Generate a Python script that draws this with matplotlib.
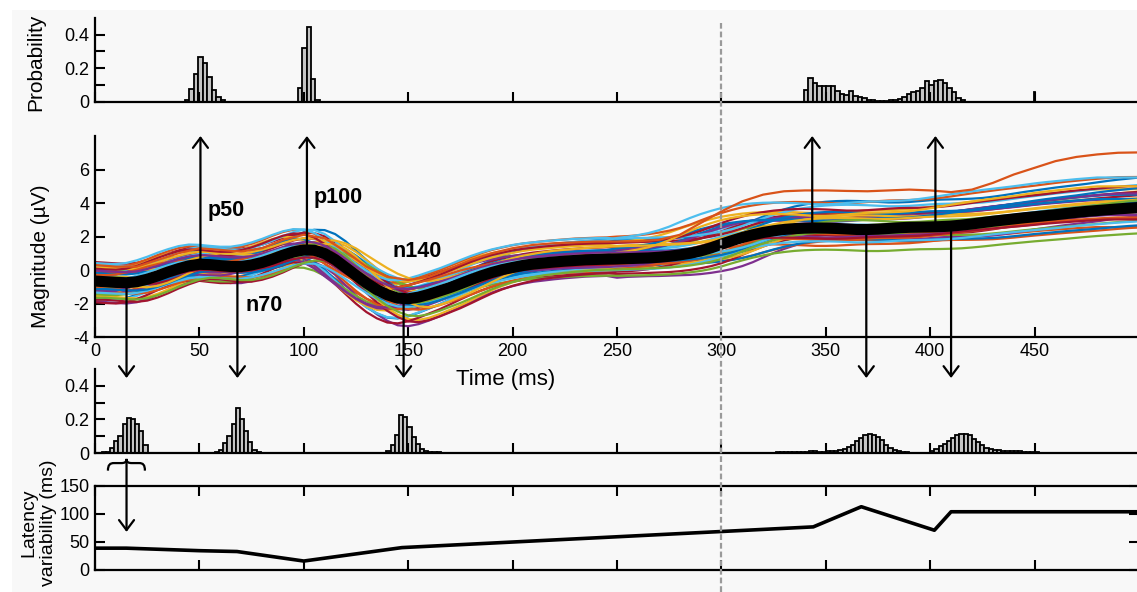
import numpy as np
import matplotlib
matplotlib.use("Agg")
import matplotlib.pyplot as plt
from matplotlib.patches import PathPatch, Rectangle
from matplotlib.path import Path
from matplotlib.lines import Line2D
from matplotlib.transforms import blended_transform_factory

plt.rcParams['font.family'] = ['Liberation Sans', 'DejaVu Sans']
plt.rcParams['axes.unicode_minus'] = False

W, H = 1137, 592

# ---------------- data ----------------
time_ms = np.arange(0, 505, 5)
mean_uv = [
    -0.66, -0.70, -0.74, -0.76, -0.70, -0.55, -0.35, -0.12, 0.08, 0.25,
    0.34, 0.32, 0.26, 0.21, 0.21, 0.30, 0.45, 0.65, 0.88, 1.08,
    1.20, 1.18, 0.98, 0.62, 0.15, -0.32, -0.78, -1.18, -1.48, -1.68,
    -1.72, -1.62, -1.45, -1.25, -1.05, -0.82, -0.58, -0.35, -0.15, 0.02,
    0.15, 0.27, 0.36, 0.42, 0.48, 0.53, 0.57, 0.61, 0.63, 0.65,
    0.66, 0.68, 0.70, 0.72, 0.76, 0.82, 0.90, 1.00, 1.14, 1.32,
    1.54, 1.75, 1.94, 2.10, 2.24, 2.34, 2.42, 2.47, 2.50, 2.51,
    2.50, 2.48, 2.45, 2.42, 2.42, 2.44, 2.48, 2.52, 2.55, 2.56,
    2.57, 2.59, 2.62, 2.68, 2.75, 2.83, 2.91, 2.98, 3.05, 3.12,
    3.18, 3.24, 3.30, 3.37, 3.44, 3.50, 3.55, 3.60, 3.65, 3.69,
    3.73]

# single trials: offset, latency shift early / late (samples), amplitude, late drift
trial_offset = [
    0.9, -0.6, 0.3, -1.0, 0.5, -0.2, 1.1,
    -0.8, 0.0, 0.7, -0.4, 0.2, -0.9, 0.6,
    -0.1, 1.0, -0.7, 0.4, -0.3, 0.8, -1.05,
    0.1, 0.55, -0.5, 0.25, -0.85, 0.95, -0.15,
    0.35, -0.65, 0.75, -0.35, 0.05, 1.15, -0.95,
    0.45, -0.25, 0.65, -0.55, 0.15, -0.75, 0.85,
    -0.45, 0.3, -0.05, 0.6, -0.9, 0.2, -0.3]
trial_shift = [
    1, -1, 2, 0, -2, 1, 0,
    -1, 2, -2, 0, 1, -1, 0,
    2, -1, 1, -2, 0, 1, -1,
    2, 0, -2, 1, -1, 0, 2,
    -1, 1, 0, -2, 2, -1, 1,
    0, -1, 2, -2, 1, 0, -1,
    1, -2, 2, 0, 1, -1, 0]
trial_late_shift = [
    3, -4, 1, 4, -2, -3, 2,
    -1, 4, -4, 2, 3, -3, 0,
    4, -2, 1, -4, 3, -1, 2,
    -3, 0, 4, -2, 1, -4, 3,
    2, -3, 4, -1, 0, 3, -2,
    -4, 1, 2, -3, 4, 0, -1,
    3, -2, -4, 1, 2, 4, -3]
trial_amp = [
    1.20, 0.90, 1.05, 1.30, 0.85, 1.10, 0.95,
    1.25, 0.80, 1.00, 1.15, 0.90, 1.20, 1.05,
    0.85, 1.10, 1.30, 0.95, 1.00, 0.80, 1.25,
    1.10, 0.90, 1.15, 1.05, 0.85, 1.20, 0.95,
    1.30, 1.00, 0.90, 1.10, 0.80, 1.05, 1.25,
    0.95, 1.15, 0.85, 1.00, 1.20, 0.90, 1.10,
    1.05, 0.80, 1.30, 0.95, 1.15, 1.00, 0.85]
trial_drift = [
    0.30, -0.20, 0.50, -0.40, 0.10, 0.60, -0.10,
    0.20, -0.30, 0.40, 0.00, -0.50, 0.35, 0.15,
    -0.25, 0.45, -0.15, 0.25, 0.55, -0.35, 0.05,
    0.30, -0.45, 0.20, 0.40, -0.10, 0.10, 0.50,
    -0.20, 0.00, 0.35, -0.30, 0.60, 0.15, -0.05,
    0.25, -0.40, 0.45, 0.10, -0.25, 0.30, 0.05,
    0.50, -0.15, 0.20, -0.35, 0.40, 0.00, 0.15]
trial_colors = ['#0072BD', '#D95319', '#EDB120', '#7E2F8E',
                '#77AC30', '#4DBEEE', '#A2142F']

outlier_ms = np.arange(0, 510, 10)
outlier_uv = [
    0.3, 0.2, 0.2, 0.6, 1.0, 1.3, 1.2, 1.1, 1.3, 1.8,
    2.1, 1.9, 1.1, 0.2, -0.4, -0.6, -0.4, 0.1, 0.6, 1.0,
    1.3, 1.5, 1.6, 1.65, 1.7, 1.7, 1.72, 1.8, 2.1, 2.8,
    3.5, 4.1, 4.5, 4.7, 4.75, 4.75, 4.72, 4.7, 4.75, 4.8,
    4.75, 4.65, 4.8, 5.2, 5.7, 6.1, 6.5, 6.75, 6.9, 7.0, 7.02]

# positive-peak latency histograms (top)
top_bin = 2.15
top_starts = [43.1, 97.0, 339.4]
top_heights = [
    [0.01, 0.072, 0.166, 0.266, 0.232, 0.146, 0.066, 0.026, 0.006],
    [0.082, 0.32, 0.446, 0.136, 0.01],
    [0.07, 0.14, 0.11, 0.09, 0.09, 0.09, 0.09, 0.062, 0.045, 0.04, 0.06, 0.03, 0.024,
     0.018, 0.01, 0.006, 0.004, 0.004, 0.004, 0.006, 0.008,
     0.012, 0.026, 0.046, 0.056, 0.062, 0.082, 0.12, 0.096, 0.12, 0.126, 0.11,
     0.082, 0.056, 0.02, 0.01]]
top_spike_ms, top_spike_p = 449.6, 0.056

# negative-peak latency histograms (bottom)
bot_bin = 2.0
bot_starts = [3.2, 57.4, 139.6, 324.0, 400.0]
bot_heights = [
    [0.004, 0.008, 0.03, 0.07, 0.10, 0.17, 0.21, 0.20, 0.175, 0.13, 0.05],
    [0.005, 0.02, 0.06, 0.10, 0.17, 0.27, 0.20, 0.13, 0.065, 0.02, 0.005],
    [0.01, 0.046, 0.106, 0.226, 0.216, 0.152, 0.096, 0.056, 0.026, 0.014, 0.008,
     0.006, 0.004, 0.002],
    [0.002, 0.003, 0.003, 0.004, 0.003, 0.004, 0.005, 0.006, 0.008, 0.01, 0.01,
     0.008, 0.008, 0.01, 0.012, 0.014, 0.018, 0.025, 0.035, 0.05, 0.07, 0.09,
     0.105, 0.115, 0.11, 0.095, 0.075, 0.05, 0.03, 0.018, 0.01, 0.005, 0.003],
    [0.01, 0.025, 0.04, 0.055, 0.07, 0.09, 0.105, 0.115, 0.115, 0.105, 0.085,
     0.065, 0.045, 0.03, 0.022, 0.018, 0.015, 0.013, 0.012, 0.011, 0.01, 0.009,
     0.008, 0.007, 0.006, 0.004]]

# latency variability
lat_ms = [0, 15, 50, 68, 100, 147, 344, 367, 402, 410, 500]
lat_val = [39, 39, 34.5, 33, 16, 40, 77, 113, 71, 104, 104]

# peaks
up_ms = [50.5, 101.5, 343.5, 402.5]
down_ms = [15.1, 68.2, 147.8, 369.4, 410.0]
peak_labels = [('p50', 54.1, 3.58), ('p100', 104.5, 4.3),
               ('n140', 142.3, 1.13), ('n70', 71.9, -2.1)]

# ---------------- figure ----------------
fig = plt.figure(figsize=(W / 100, H / 100), dpi=100)
fig.patch.set_facecolor('white')
fig.add_artist(Rectangle((12 / W, 0), 1, 1 - 10 / H, transform=fig.transFigure,
                         facecolor='#f8f8f8', edgecolor='none', zorder=-10))


def box(top_px, bot_px):
    return [95 / W, 1 - bot_px / H, 1044 / W, (bot_px - top_px) / H]


ax_top = fig.add_axes(box(18, 101.5))
ax_mid = fig.add_axes(box(136, 337))
ax_bh = fig.add_axes(box(369, 453))
ax_lat = fig.add_axes(box(486, 570))


def style(ax, spines):
    ax.set_facecolor('none')
    for s in ax.spines:
        ax.spines[s].set_visible(s in spines)
        ax.spines[s].set_linewidth(1.6)
    ax.tick_params(which='both', direction='in', length=7, width=1.5,
                   labelsize=13, pad=4)
    ax.set_xlim(0, 500)
    ax.set_xticks(np.arange(0, 500, 50))


def draw_hist(ax, starts, heights, width):
    for st, hs in zip(starts, heights):
        lefts = st + width * np.arange(len(hs))
        ax.bar(lefts, hs, width=width, align='edge', color='#c4c4c4',
               edgecolor='black', lw=1.3)


# top histogram
style(ax_top, ['left', 'bottom'])
draw_hist(ax_top, top_starts, top_heights, top_bin)
ax_top.bar([top_spike_ms], [top_spike_p], width=0.8, align='edge',
           color='#c4c4c4', edgecolor='black', lw=1.3)
ax_top.set_ylim(0, 0.5)
ax_top.set_yticks([0, 0.2, 0.4], ['0', '0.2', '0.4'])
ax_top.set_yticks([0.1, 0.3], minor=True)
ax_top.tick_params(axis='x', labelbottom=False)
ax_top.set_ylabel('Probability', fontsize=15)
ax_top.yaxis.set_label_coords(-0.048, 0.47)

# single trials + mean
style(ax_mid, ['left', 'bottom'])
mean_arr = np.array(mean_uv)
n = len(time_ms)
for k in range(len(trial_offset)):
    shift = np.where(time_ms < 250, trial_shift[k], trial_late_shift[k])
    idx = np.clip(np.arange(n) - shift, 0, n - 1)
    y = trial_amp[k] * mean_arr[idx] + trial_offset[k] + trial_drift[k] * time_ms / 500
    ax_mid.plot(time_ms, y, color=trial_colors[k % 7], lw=1.6)
ax_mid.plot(outlier_ms, outlier_uv, color='#D95319', lw=1.6)
ax_mid.plot(time_ms, mean_arr, color='black', lw=8, solid_capstyle='butt', zorder=4)
ax_mid.set_ylim(-4, 8)
ax_mid.set_yticks(np.arange(-4, 7, 2))
ax_mid.set_ylabel('Magnitude (µV)', fontsize=15)
ax_mid.yaxis.set_label_coords(-0.043, 0.40)
ax_mid.set_xlabel('Time (ms)', fontsize=16)
ax_mid.xaxis.set_label_coords(0.393, -0.16)

astyle = '->,head_length=0.72,head_width=0.54'
for x in up_ms:
    y0 = np.interp(x, time_ms, mean_arr)
    ax_mid.annotate('', xy=(x, 8.0), xytext=(x, y0), annotation_clip=False,
                    arrowprops=dict(arrowstyle=astyle, lw=1.6, color='black',
                                    shrinkA=0, shrinkB=0, mutation_scale=10),
                    zorder=5)
for x in down_ms:
    y0 = np.interp(x, time_ms, mean_arr)
    ax_mid.annotate('', xy=(x, -6.45), xytext=(x, y0), annotation_clip=False,
                    arrowprops=dict(arrowstyle=astyle, lw=1.6, color='black',
                                    shrinkA=0, shrinkB=0, mutation_scale=10),
                    zorder=5)
for txt, x, y in peak_labels:
    ax_mid.text(x, y, txt, fontsize=15.5, fontweight='bold', ha='left', va='center')

# bottom histogram
style(ax_bh, ['left', 'bottom'])
draw_hist(ax_bh, bot_starts, bot_heights, bot_bin)
ax_bh.set_ylim(0, 0.5)
ax_bh.set_yticks([0, 0.2, 0.4], ['0', '0.2', '0.4'])
ax_bh.set_yticks([0.1, 0.3], minor=True)
ax_bh.tick_params(axis='x', labelbottom=False)

# brace under first histogram
bt = blended_transform_factory(ax_bh.transData, ax_bh.transAxes)
verts = [(6.2, -0.21), (6.2, -0.14), (7.2, -0.12), (9.1, -0.12),
         (12.5, -0.12),
         (14.2, -0.12), (15.1, -0.11), (15.1, -0.07),
         (15.1, -0.11), (16.0, -0.12), (17.7, -0.12),
         (21.1, -0.12),
         (23.0, -0.12), (23.9, -0.14), (23.9, -0.21)]
codes = [Path.MOVETO, Path.CURVE4, Path.CURVE4, Path.CURVE4, Path.LINETO,
         Path.CURVE4, Path.CURVE4, Path.CURVE4, Path.CURVE4, Path.CURVE4, Path.CURVE4,
         Path.LINETO, Path.CURVE4, Path.CURVE4, Path.CURVE4]
ax_bh.add_artist(PathPatch(Path(verts, codes), transform=bt, fill=False,
                           lw=1.6, edgecolor='black', clip_on=False))

# latency variability
style(ax_lat, ['left', 'bottom', 'top', 'right'])
ax_lat.plot(lat_ms, lat_val, color='black', lw=2.6)
ax_lat.set_ylim(0, 150)
ax_lat.set_yticks([0, 50, 100, 150])
ax_lat.tick_params(which='both', top=True, right=True, labelbottom=False)
ax_lat.set_ylabel('Latency\nvariability (ms)', fontsize=14, linespacing=1.25)
ax_lat.yaxis.set_label_coords(-0.036, 0.56)
ax_lat.annotate('', xy=(15.1, 68), xytext=(15.1, 192), annotation_clip=False,
                arrowprops=dict(arrowstyle=astyle, lw=1.6, color='black',
                                shrinkA=0, shrinkB=0, mutation_scale=10))

# dashed line at 300 ms across all panels
dt = blended_transform_factory(ax_mid.transData, fig.transFigure)
fig.add_artist(Line2D([300, 300], [0, 1 - 23 / H], transform=dt, color='#9a9a9a',
                      lw=1.6, dashes=(2.6, 1.3)))

fig.savefig('out.png', dpi=100, facecolor=fig.get_facecolor())
